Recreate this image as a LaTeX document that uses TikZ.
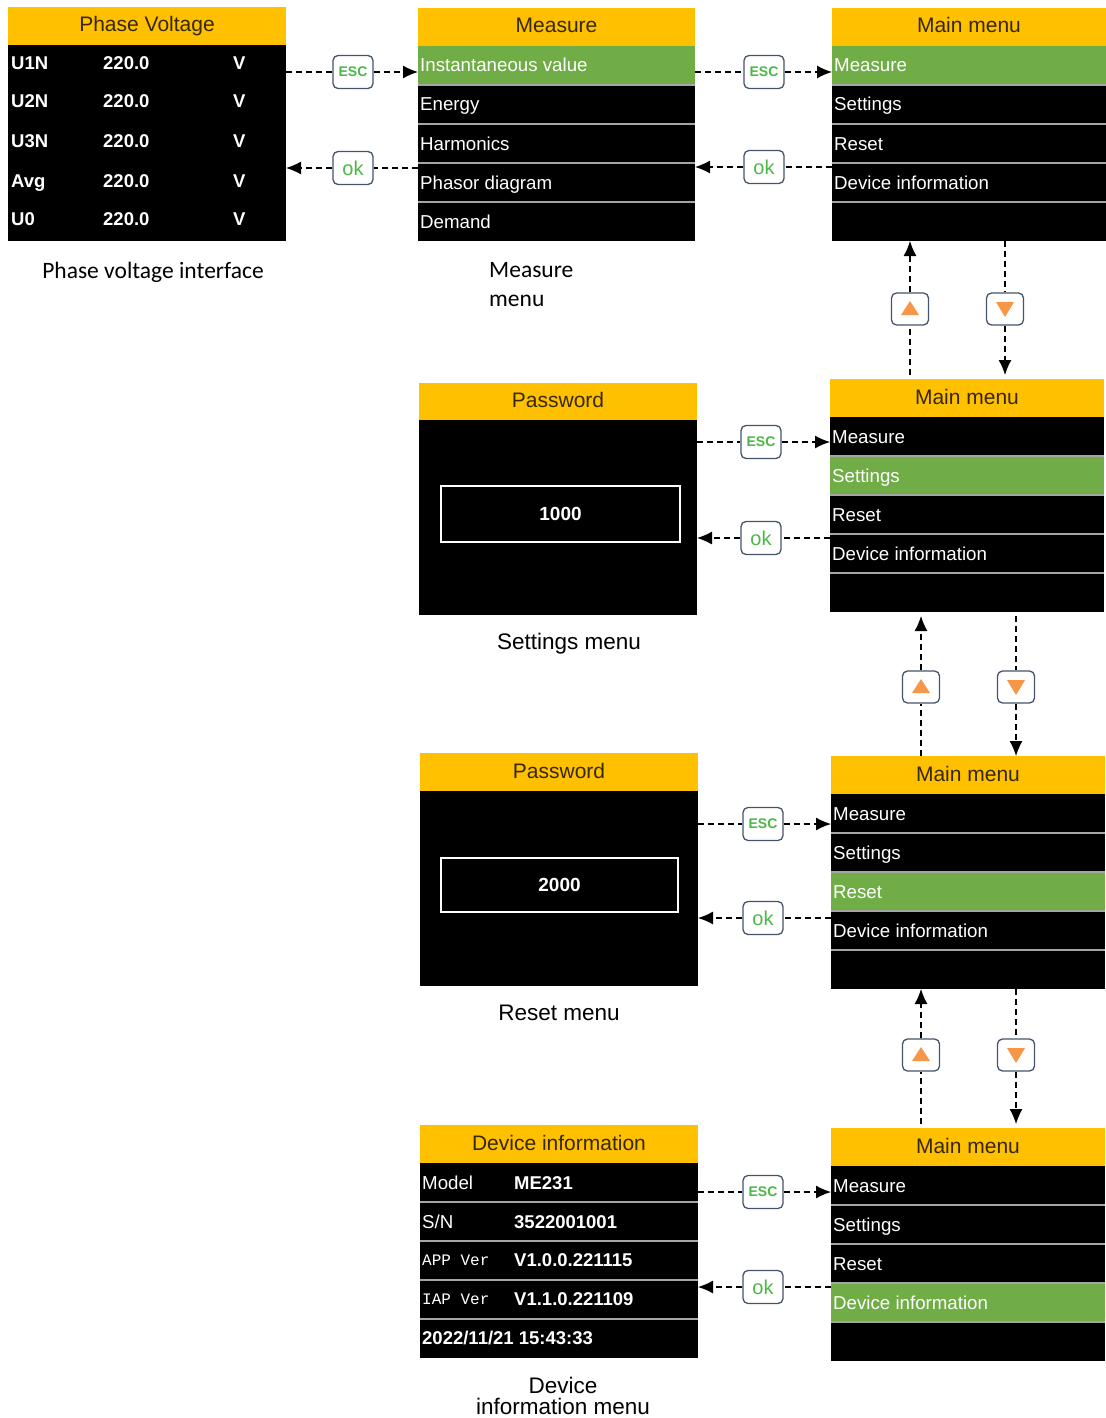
\documentclass[tikz,border=0pt]{standalone}
\usepackage{fontspec}
\setmainfont{Liberation Sans}
\newfontfamily\calfnt{Carlito}
\newfontfamily\monofnt{Liberation Mono}
\usetikzlibrary{calc,arrows.meta}

\definecolor{hdrY}{RGB}{255,192,0}
\definecolor{hdrT}{RGB}{55,40,5}
\definecolor{hlG}{RGB}{112,173,71}
\definecolor{sepG}{RGB}{165,165,165}
\definecolor{btnB}{RGB}{68,84,106}
\definecolor{escG}{RGB}{76,184,72}
\definecolor{triO}{RGB}{247,150,70}

\tikzset{
 scr/.style={fill=black,draw=none,inner sep=0pt,outer sep=0pt},
 hdr/.style={fill=hdrY,inner sep=0pt,outer sep=0pt,minimum height=38pt,text=hdrT,text height=15pt,text depth=3pt,font=\fontsize{21}{24}\selectfont},
 item/.style={inner sep=0pt,text=white,font=\fontsize{18.7}{20}\selectfont},
 bitem/.style={inner sep=0pt,text=white,font=\bfseries\fontsize{18.5}{21}\selectfont},
 mitem/.style={inner sep=0pt,text=white,font=\monofnt\fontsize{16}{18}\selectfont},
 sepl/.style={draw=sepG,line width=1.5pt},
 hlrow/.style={fill=hlG},
 btn/.style={draw=btnB,line width=1.3pt,rounded corners=5pt,fill=white,inner sep=0pt,minimum width=40pt,minimum height=33pt},
 escbtn/.style={btn,text=escG,font=\bfseries\fontsize{14}{16}\selectfont},
 okbtn/.style={btn,text=escG,font=\fontsize{20}{22}\selectfont},
 navbtn/.style={btn,minimum width=37pt,minimum height=32pt},
 tri/.style={fill=triO},
 pwbox/.style={draw=white,line width=2pt,inner sep=0pt,text=white,text height=13.5pt,text depth=0pt,font=\bfseries\fontsize{19}{21}\selectfont},
 dl/.style={draw=black,line width=1.2pt,dash pattern=on 6pt off 4pt},
 dla/.style={dl,-{Latex[length=15pt,width=13pt]}},
 capA/.style={inner sep=0pt,font=\calfnt\fontsize{23.5}{29}\selectfont},
 capB/.style={inner sep=0pt,font=\fontsize{22.5}{24}\selectfont},
}

\newcommand{\mmenu}[4]{%
  \node[scr,minimum width=274pt,minimum height=233pt,anchor=north west] (#1) at (#2,#3) {};
  \node[hdr,minimum width=274pt,anchor=north west] (#1h) at (#1.north west) {Main menu};
  \fill[hlrow] ($(#1.north west)+(0,{38+39*(#4-1)})$) rectangle ++(274,39);
  \foreach \lbl [count=\i] in {Measure,Settings,Reset,Device information}{%
    \node[item,anchor=base west] (#1r\i) at ($(#1.north west)+(2,{38+39*(\i-1)+26})$) {\lbl};
    \draw[sepl] ($(#1.north west)+(0,{38+39*\i})$) -- ++(274,0);
  }%
}
\newcommand{\uptri}[1]{\fill[tri] ($(#1)+(-9,6)$) -- ($(#1)+(9,6)$) -- ($(#1)+(0,-8)$) -- cycle;}
\newcommand{\dntri}[1]{\fill[tri] ($(#1)+(-9,-7)$) -- ($(#1)+(9,-7)$) -- ($(#1)+(0,8)$) -- cycle;}

\begin{document}
\begin{tikzpicture}[x=1pt,y=-1pt]
\useasboundingbox[fill=white] (0,0) rectangle (1105,1418);

% ---------- Phase voltage screen
\node[scr,minimum width=278pt,minimum height=234pt,anchor=north west] (pv) at (8,7) {};
\node[hdr,minimum width=278pt,anchor=north west] (pvh) at (pv.north west) {Phase Voltage};
\foreach \lb/\yy [count=\i] in {U1N/70,U2N/108,U3N/147,Avg/187,U0/225}{%
  \node[bitem,anchor=base west] (pvl\i) at (11,\yy) {\lb};
  \node[bitem,anchor=base west] (pvv\i) at (103,\yy) {220.0};
  \node[bitem,anchor=base west] (pvu\i) at (233,\yy) {V};
}
\node[capA,anchor=base] (pvcap) at (153,278) {Phase voltage interface};

% ---------- Measure screen
\node[scr,minimum width=277pt,minimum height=233pt,anchor=north west] (meas) at (418,8) {};
\node[hdr,minimum width=277pt,anchor=north west] (meash) at (meas.north west) {Measure};
\fill[hlrow] (418,46) rectangle ++(277,39);
\foreach \lb [count=\i] in {Instantaneous value,Energy,Harmonics,Phasor diagram,Demand}{%
  \node[item,anchor=base west] (measr\i) at (420,{46+39*(\i-1)+26}) {\lb};
}
\foreach \i in {1,2,3,4}{\draw[sepl] (418,{46+39*\i}) -- ++(277,0);}
\node[capA,anchor=base west] (meascap1) at (489,277) {Measure};
\node[capA,anchor=base west] (meascap2) at (489,306) {menu};

% ---------- Main menus
\mmenu{mA}{832}{8}{1}
\mmenu{mB}{830}{379}{2}
\mmenu{mC}{831}{756}{3}
\mmenu{mD}{831}{1128}{4}

% ---------- Password screens
\node[scr,minimum width=278pt,minimum height=232pt,anchor=north west] (pwA) at (419,383) {};
\node[hdr,minimum width=278pt,minimum height=37pt,anchor=north west] (pwAh) at (pwA.north west) {Password};
\node[pwbox,minimum width=239pt,minimum height=56pt] (pwAb) at (560.5,514) {1000};
\node[capB,anchor=base] (pwAcap) at (569,649) {Settings menu};

\node[scr,minimum width=278pt,minimum height=233pt,anchor=north west] (pwB) at (420,753) {};
\node[hdr,minimum width=278pt,anchor=north west] (pwBh) at (pwB.north west) {Password};
\node[pwbox,minimum width=237pt,minimum height=54pt] (pwBb) at (559.5,885) {2000};
\node[capB,anchor=base] (pwBcap) at (559,1020) {Reset menu};

% ---------- Device information screen
\node[scr,minimum width=278pt,minimum height=233pt,anchor=north west] (dev) at (420,1125) {};
\node[hdr,minimum width=278pt,anchor=north west] (devh) at (dev.north west) {Device information};
\node[item,anchor=base west] (devl1) at (422,1189) {Model};
\node[bitem,anchor=base west] (devv1) at (514,1189) {ME231};
\node[item,anchor=base west] (devl2) at (422,1228) {S/N};
\node[bitem,anchor=base west] (devv2) at (514,1228) {3522001001};
\node[mitem,anchor=base west] (devl3) at (422,1265) {APP Ver};
\node[bitem,anchor=base west] (devv3) at (514,1266) {V1.0.0.221115};
\node[mitem,anchor=base west] (devl4) at (422,1304) {IAP Ver};
\node[bitem,anchor=base west] (devv4) at (514,1305) {V1.1.0.221109};
\node[bitem,anchor=base west] (devl5) at (422,1344) {2022/11/21 15:43:33};
\foreach \i in {1,2,3,4}{\draw[sepl] (420,{1163+39*\i}) -- ++(278,0);}
\node[capB,anchor=base] (devcap1) at (563,1393) {Device};
\node[capB,anchor=base] (devcap2) at (563,1414) {information menu};

% ---------- Horizontal ESC / ok connectors
\node[escbtn] (e1) at (353,72) {ESC};
\node[okbtn] (o1) at (353,168) {ok};
\draw[dl] (pv.east |- e1) -- (e1);
\draw[dla] (e1) -- (meas.west |- e1);
\draw[dl] (meas.west |- o1) -- (o1);
\draw[dla] (o1) -- (pv.east |- o1);

\node[escbtn] (e2) at (764,72) {ESC};
\node[okbtn] (o2) at (764,167) {ok};
\draw[dl] (meas.east |- e2) -- (e2);
\draw[dla] (e2) -- (mA.west |- e2);
\draw[dl] (mA.west |- o2) -- (o2);
\draw[dla] (o2) -- (meas.east |- o2);

\node[escbtn] (e3) at (761,442) {ESC};
\node[okbtn] (o3) at (761,538) {ok};
\draw[dl] (pwA.east |- e3) -- (e3);
\draw[dla] (e3) -- (mB.west |- e3);
\draw[dl] (mB.west |- o3) -- (o3);
\draw[dla] (o3) -- (pwA.east |- o3);

\node[escbtn] (e4) at (763,824) {ESC};
\node[okbtn] (o4) at (763,918) {ok};
\draw[dl] (pwB.east |- e4) -- (e4);
\draw[dla] (e4) -- (mC.west |- e4);
\draw[dl] (mC.west |- o4) -- (o4);
\draw[dla] (o4) -- (pwB.east |- o4);

\node[escbtn] (e5) at (763,1192) {ESC};
\node[okbtn] (o5) at (763,1287) {ok};
\draw[dl] (dev.east |- e5) -- (e5);
\draw[dla] (e5) -- (mD.west |- e5);
\draw[dl] (mD.west |- o5) -- (o5);
\draw[dla] (o5) -- (dev.east |- o5);

% ---------- Vertical up / down connectors
\node[navbtn] (u1) at (910,309) {};
\node[navbtn] (d1) at (1005,309) {};
\node[navbtn] (u2) at (921,687) {};
\node[navbtn] (d2) at (1016,687) {};
\node[navbtn] (u3) at (921,1055) {};
\node[navbtn] (d3) at (1016,1055) {};
\uptri{u1}\dntri{d1}\uptri{u2}\dntri{d2}\uptri{u3}\dntri{d3}

\draw[dl] ([yshift=4pt]u1 |- mB.north) -- (u1);
\draw[dla] (u1) -- (u1 |- mA.south);
\draw[dl] (d1 |- mA.south) -- (d1);
\draw[dla] (d1) -- ([yshift=4pt]d1 |- mB.north);

\draw[dl] (u2 |- mC.north) -- (u2);
\draw[dla] (u2) -- ([yshift=-4pt]u2 |- mB.south);
\draw[dl] ([yshift=-4pt]d2 |- mB.south) -- (d2);
\draw[dla] (d2) -- (d2 |- mC.north);

\draw[dl] ([yshift=4pt]u3 |- mD.north) -- (u3);
\draw[dla] (u3) -- (u3 |- mC.south);
\draw[dl] (d3 |- mC.south) -- (d3);
\draw[dla] (d3) -- ([yshift=4pt]d3 |- mD.north);
\end{tikzpicture}
\end{document}
